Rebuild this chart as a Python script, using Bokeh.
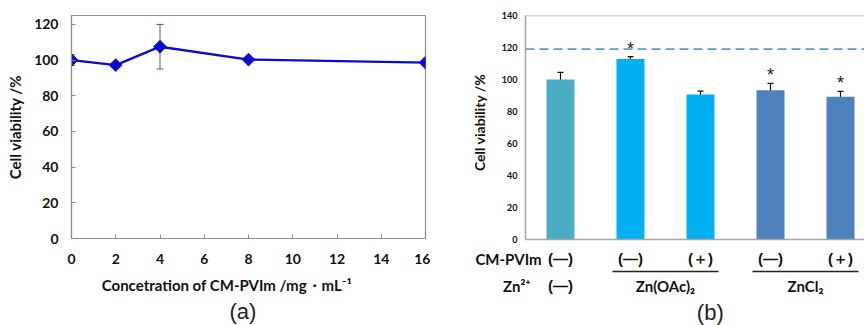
import math
from bokeh.plotting import figure
from bokeh.models import Range1d, Span, Whisker, ColumnDataSource, FixedTicker, TeeHead, Title
from bokeh.core.properties import value
from bokeh.layouts import row, column
from bokeh.embed import file_html
from bokeh.resources import INLINE

# ---- panel (a) data ----
conc = [0, 2, 4, 8, 16]
viab_a = [100.0, 97.2, 107.5, 100.3, 98.6]
err_a = [3.0, 1.2, 12.5, 1.5, 1.0]
x_ticks_a = [0, 2, 4, 6, 8, 10, 12, 14, 16]
y_ticks_a = [0, 20, 40, 60, 80, 100, 120]

# ---- panel (b) data ----
viab_b = [100.0, 112.8, 90.6, 93.3, 89.2]
err_b = [4.5, 1.5, 2.1, 4.3, 3.4]
colors_b = ["#4BACC6", "#00B0F0", "#00B0F0", "#4F81BD", "#4F81BD"]
cmpvim_labels = ["(—)", "(—)", "(＋)", "(—)", "(＋)"]
zn_labels = ["(—)", "Zn(OAc)₂", "ZnCl₂"]
zn_groups = [[0], [1, 2], [3, 4]]
starred = [False, True, False, True, True]
ref_level = 119
y_ticks_b = [0, 20, 40, 60, 80, 100, 120, 140]

FONT = "Lato"
SIGN_FONT = "Liberation Sans"
AX = "#8c8c8c"
TXT = "#111111"

# ================= panel (a) =================
pa = figure(width=430, height=325, output_backend="svg", toolbar_location=None,
            x_range=Range1d(0, 16), y_range=Range1d(0, 125),
            min_border_left=71, min_border_right=5, min_border_top=15, min_border_bottom=87)
pa.xgrid.visible = False
pa.ygrid.visible = False
pa.outline_line_color = AX
pa.outline_line_width = 1.2
for ax in (pa.xaxis[0], pa.yaxis[0]):
    ax.axis_line_color = AX
    ax.axis_line_width = 1.2
    ax.major_tick_line_color = AX
    ax.major_tick_in = 4
    ax.major_tick_out = 0
    ax.minor_tick_line_color = None
    ax.major_label_text_font = FONT
    ax.major_label_text_font_style = "bold"
    ax.major_label_text_font_size = "14px"
    ax.major_label_text_color = TXT
    ax.axis_label_text_font = FONT
    ax.axis_label_text_font_style = "bold"
    ax.axis_label_text_font_size = "15px"
    ax.axis_label_text_color = TXT
pa.xaxis.ticker = FixedTicker(ticks=x_ticks_a)
pa.yaxis.ticker = FixedTicker(ticks=y_ticks_a)
pa.xaxis.major_label_standoff = 15
pa.yaxis.major_label_standoff = 13
pa.xaxis.axis_label = "Concetration of CM-PVIm /mg・mL⁻¹\u2003\u2003\u2003\u2002\u2009"
pa.yaxis.axis_label = "Cell viability /%"
pa.xaxis.axis_label_standoff = 9
pa.yaxis.axis_label_standoff = 7
pa.add_layout(Title(text="(a)", align="left", offset=158, text_font="Liberation Sans",
                    text_font_size="22px", text_font_style="normal", text_color="#222222",
                    standoff=0), "below")

src_a = ColumnDataSource(dict(x=conc, y=viab_a,
                              lo=[v - e for v, e in zip(viab_a, err_a)],
                              hi=[v + e for v, e in zip(viab_a, err_a)]))
pa.add_layout(Whisker(source=src_a, base="x", lower="lo", upper="hi",
                      line_color="#4a5a80", line_width=1,
                      upper_head=TeeHead(size=7, line_color="#4a5a80", line_width=1),
                      lower_head=TeeHead(size=7, line_color="#4a5a80", line_width=1)))
pa.line("x", "y", source=src_a, line_color="#0a0ad0", line_width=2.4)
pa.scatter("x", "y", source=src_a, marker="square", size=9, angle=math.pi / 4,
           fill_color="#0a0ad0", line_color="#0a0ad0")

# ================= panel (b) =================
pb = figure(width=434, height=245, output_backend="svg", toolbar_location=None,
            x_range=Range1d(-0.5, 4.343), y_range=Range1d(0, 140),
            min_border_left=95, min_border_right=0, min_border_top=15, min_border_bottom=6)
pb.frame_align = False
pb.xgrid.visible = False
pb.ygrid.visible = False
pb.outline_line_color = None
pb.xaxis.ticker = FixedTicker(ticks=[])
pb.xaxis.axis_line_color = "#a6a6a6"
pb.xaxis.axis_line_width = 1.5
pb.xaxis.major_tick_line_color = None
pb.xaxis.minor_tick_line_color = None
pb.xaxis.major_label_text_font_size = "0px"
ya = pb.yaxis[0]
ya.ticker = FixedTicker(ticks=y_ticks_b)
ya.axis_line_color = "#a6a6a6"
ya.axis_line_width = 1.5
ya.major_tick_in = 0
ya.major_tick_out = 0
ya.minor_tick_line_color = None
ya.major_label_text_font = FONT
ya.major_label_text_font_style = "bold"
ya.major_label_text_font_size = "9px"
ya.major_label_text_color = TXT
ya.major_label_standoff = 8
ya.axis_label = "\u2003Cell viability /%"
ya.axis_label_text_font = FONT
ya.axis_label_text_font_style = "bold"
ya.axis_label_text_font_size = "14px"
ya.axis_label_text_color = TXT
ya.axis_label_standoff = 11
pb.add_layout(Span(location=140, dimension="width", line_color="#a6a6a6", line_width=1.5))

xs = list(range(len(viab_b)))
src_b = ColumnDataSource(dict(x=xs, top=viab_b, color=colors_b,
                              lo=[v - e for v, e in zip(viab_b, err_b)],
                              hi=[v + e for v, e in zip(viab_b, err_b)]))
pb.vbar(x="x", top="top", width=0.4, source=src_b, fill_color="color", line_color=None)
pb.add_layout(Whisker(source=src_b, base="x", lower="lo", upper="hi",
                      line_color="#111111", line_width=1.2,
                      upper_head=TeeHead(size=6, line_color="#111111", line_width=1.2),
                      lower_head=TeeHead(size=6, line_color="#111111", line_width=1.2)))
pb.add_layout(Span(location=ref_level, dimension="width", line_color="#5B9BD5",
                   line_width=1.6, line_dash="9 5"))
sx = [x for x, s in zip(xs, starred) if s]
sy = [v + e for v, e, s in zip(viab_b, err_b, starred) if s]
pb.text(x=sx, y=sy, text=["*"] * len(sx), text_align="center", text_baseline="alphabetic",
        y_offset=-8, text_font=value("Liberation Sans"), text_font_size="18px",
        text_color="#222222")

# ---- category label strip under panel (b) ----
pl = figure(width=434, height=80, output_backend="svg", toolbar_location=None,
            x_range=Range1d(-0.5 - 95 / 70, 4.343), y_range=Range1d(80, 0),
            x_axis_type=None, y_axis_type=None,
            min_border_left=0, min_border_right=0, min_border_top=0, min_border_bottom=0)
pl.frame_align = False
pl.xgrid.visible = False
pl.ygrid.visible = False
pl.outline_line_color = None
ROW1, LINE_Y, ROW2, TAG_Y = 13, 26, 40, 67
common = dict(text_font_style="bold", text_font_size="15px", text_color=TXT,
              text_baseline="middle", text_align="center")
pl.text(x=[-0.271, -0.429], y=[ROW1, ROW2], text=["CM-PVIm", "Zn²⁺"],
        text_font=value(FONT), text_font_style="bold", text_font_size="15px",
        text_color=TXT, text_baseline="middle", text_align="right")
pl.text(x=xs, y=[ROW1] * len(xs), text=cmpvim_labels, text_font=value(SIGN_FONT), **common)
gc = [sum(g) / len(g) for g in zn_groups]
zsrc = ColumnDataSource(dict(x=gc, y=[ROW2] * len(gc), text=zn_labels,
                             font=[SIGN_FONT if t.startswith("(") else FONT for t in zn_labels]))
pl.text(x="x", y="y", text="text", text_font="font", source=zsrc, **common)
multi = [g for g in zn_groups if len(g) > 1]
pl.segment(x0=[g[0] - 0.257 for g in multi], x1=[g[-1] + 0.257 for g in multi],
           y0=[LINE_Y] * len(multi), y1=[LINE_Y] * len(multi), line_color="#222222", line_width=1.5)
pl.text(x=[2.14], y=[TAG_Y], text=["(b)"], text_align="center", text_baseline="middle",
        text_font=value("Liberation Sans"), text_font_size="22px", text_color="#222222")

layout = row(pa, column(pb, pl, spacing=0), spacing=0)
open("out.html", "w").write(file_html(layout, INLINE))
